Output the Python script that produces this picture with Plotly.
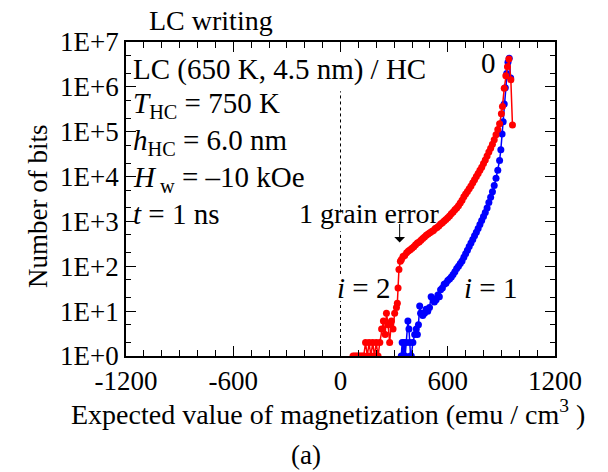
import plotly.graph_objects as go

# i = 2 (red)
red_x = [70, 80, 90, 100, 110, 120, 130, 140, 150, 160, 170, 180, 190, 200, 210, 220,
         230, 240, 250, 257, 266, 275, 285, 294, 303, 313, 318, 322, 327, 335, 341,
         350, 359, 370, 380, 390, 400, 410, 420, 430, 440, 450, 460, 470, 480, 490,
         500, 510, 520, 530, 540, 550, 560, 570, 580, 590, 600, 610, 620, 630, 640,
         650, 660, 670, 680, 690, 700, 710, 720, 730, 740, 750, 760, 770, 780, 790,
         800, 810, 820, 830, 840, 850, 860, 870, 880, 890, 900, 906, 916, 925, 934,
         942, 953, 962]
red_n = [1, 1, 1, 1, 1, 1, 1, 2, 1, 2, 1, 2, 1, 2, 1, 2,
         4, 6, 3, 9, 5, 2, 6, 4, 9, 12, 15, 33, 85, 129, 141,
         166, 174, 200, 219, 234, 251, 272, 302, 331, 350, 380, 417, 450, 490, 525,
         560, 595, 631, 692, 735, 794, 871, 930, 1023, 1100, 1202, 1318, 1479, 1622, 1820,
         1995, 2239, 2570, 2951, 3548, 4074, 4677, 5370, 6166, 7244, 8511, 10000, 11749, 13804, 16218,
         19498, 23442, 28840, 35481, 42658, 52481, 66069, 85114, 112202, 151356, 251189, 363078, 933254, 1778279, 2818383,
         4168694, 1445440, 141254]

# i = 1 (blue)
blue_x = [340, 345, 350, 356, 362, 368, 377, 383, 387, 392, 396, 405, 415, 424, 430,
          436, 443, 448, 452, 460, 470, 479, 488, 498, 507, 517, 525, 535, 545, 553,
          560, 570, 580, 590, 600, 610, 620, 630, 640, 650, 660, 670, 680, 690, 700,
          710, 720, 730, 740, 750, 760, 770, 780, 790, 800, 810, 820, 830, 840, 850,
          860, 870, 880, 890, 897, 904, 910, 916, 922, 930, 937, 944, 952]
blue_n = [1, 2, 1, 2, 1, 2, 6, 4, 2, 1, 1, 2, 3, 4, 3,
          5, 13, 9, 9, 8, 9, 11, 10, 12, 21, 19, 16, 18, 23, 21,
          30, 33, 40, 42, 48, 52, 58, 66, 76, 89, 100, 115, 132, 158, 191,
          229, 275, 331, 398, 479, 575, 692, 851, 1047, 1288, 1585, 1995, 2630, 3467, 4571,
          6310, 9120, 13804, 22909, 39811, 89125, 165959, 416869, 954993, 1995262, 3548134, 4365158, 1584893]

# dotted zero line (x = 0), interrupted where the labels sit
zero_x = [0, 0, None, 0, 0, None, 0, 0]
zero_n = [1, 10 ** 1.22, None, 10 ** 1.83, 10 ** 2.78, None, 10 ** 3.2, 10 ** 5.9]

x_tickvals = [-1200, -600, 0, 600, 1200]
x_ticktext = ["-1200", "-600", "0", "600", "1200"]
y_tickvals = [1, 10, 100, 1000, 10000, 100000, 1000000, 10000000]
y_ticktext = ["1E+0", "1E+1", "1E+2", "1E+3", "1E+4", "1E+5", "1E+6", "1E+7"]

FONT = "Liberation Serif, Times New Roman, serif"
FS = 27
FA = 29

fig = go.Figure()

fig.add_trace(go.Scatter(x=zero_x, y=zero_n, mode="lines", connectgaps=False,
                         line=dict(color="black", width=1, dash="dot"),
                         showlegend=False, hoverinfo="skip"))

fig.add_trace(go.Scatter(x=blue_x, y=blue_n, mode="lines+markers",
                         line=dict(color="#0000ff", width=1.5),
                         marker=dict(color="#0000ff", size=7),
                         showlegend=False))
fig.add_trace(go.Scatter(x=red_x, y=red_n, mode="lines+markers",
                         line=dict(color="#ff0000", width=1.5),
                         marker=dict(color="#ff0000", size=7),
                         showlegend=False))

# page has an 8 px body margin, so the figure is 600x464 placed at (8, 8)
fig.update_layout(
    width=600, height=464,
    margin=dict(l=118, r=53, t=34, b=116),
    paper_bgcolor="white", plot_bgcolor="white",
    font=dict(family=FONT, size=FS, color="black"),
    showlegend=False,
)

fig.update_xaxes(
    range=[-1200, 1200], tickmode="array", tickvals=x_tickvals, ticktext=x_ticktext,
    ticks="inside", ticklen=10, tickwidth=1.2, tickcolor="black",
    minor=dict(dtick=100, ticks="inside", ticklen=6, tickwidth=1.2, tickcolor="black", showgrid=False),
    showline=True, linecolor="black", linewidth=1.5, mirror="ticks",
    showgrid=False, zeroline=False,
    tickfont=dict(family=FONT, size=FS),
)
fig.update_yaxes(
    type="log", range=[0, 7], tickmode="array", tickvals=y_tickvals, ticktext=y_ticktext,
    ticks="inside", ticklen=10, tickwidth=1.2, tickcolor="black",
    minor=dict(ticks="inside", ticklen=5, tickwidth=1, tickcolor="black", showgrid=False),
    showline=True, linecolor="black", linewidth=1.5, mirror="ticks",
    showgrid=False, zeroline=False,
    tickfont=dict(family=FONT, size=FS),
)

def txt(text, x, y, xanchor="left", angle=0, size=FA):
    fig.add_annotation(text=text, x=x, y=y, xref="paper", yref="paper",
                       xanchor=xanchor, yanchor="middle", showarrow=False,
                       font=dict(family=FONT, size=size, color="black"),
                       textangle=angle, borderpad=0)

txt("LC writing", 0.051, 1.07, size=28)
txt("LC (650 K, 4.5 nm) / HC", 0.014, 0.911)
txt("<i>T</i><sub>HC</sub> = 750 K", 0.014, 0.80)
txt("<i>h</i><sub>HC</sub> = 6.0 nm", 0.014, 0.683)
txt("<i>H</i><sub> w</sub> = \u201310 kOe", 0.014, 0.565)
txt("<i>t</i> = 1 ns", 0.014, 0.452)
txt("1 grain error", 0.40, 0.455, size=28)
txt("<i>i</i> = 2", 0.49, 0.217)
txt("<i>i</i> = 1", 0.785, 0.217)
txt("0", 0.845, 0.933, xanchor="center")
txt("Number of bits", -0.205, 0.475, xanchor="center", angle=-90, size=FS)
txt("Expected value of magnetization (emu / cm<sup>3</sup> )", 0.47, -0.18, xanchor="center", size=28)
txt("(a)", 0.42, -0.315, xanchor="center", size=FS)

# arrow pointing to the 1 grain error kink
fig.add_annotation(x=331, y=2.53, xref="x", yref="y", text="", showarrow=True,
                   ax=0, ay=-20, arrowhead=1, arrowsize=1.8, arrowwidth=1,
                   arrowcolor="black")

fig.write_html("out.html")
